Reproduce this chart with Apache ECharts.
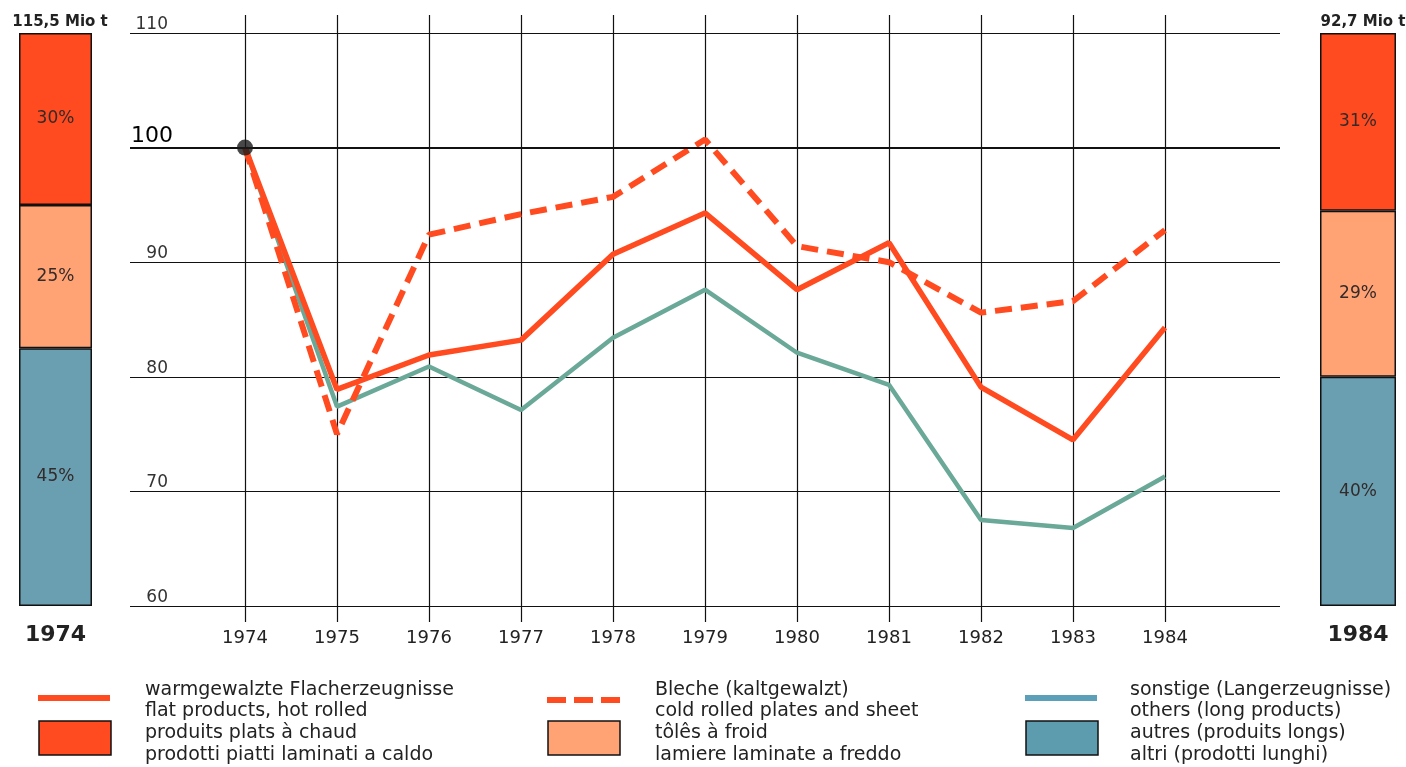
<!DOCTYPE html>
<html>
<head>
<meta charset="utf-8">
<script src="https://cdn.jsdelivr.net/npm/echarts@6/dist/echarts.min.js"></script>
<style>
  html, body { margin: 0; padding: 0; background: #fff; }
  #chart { width: 1406px; height: 767px; }
</style>
</head>
<body>
<div id="chart"></div>
<script>
// index 1974 = 100
const years = ["1974", "1975", "1976", "1977", "1978", "1979", "1980", "1981", "1982", "1983", "1984"];
const hotRolled = [100, 78.9, 81.9, 83.2, 90.7, 94.3, 87.6, 91.7, 79.1, 74.5, 84.3];
const coldRolled = [100, 75.0, 92.4, 94.2, 95.7, 100.7, 91.4, 90.0, 85.6, 86.6, 92.8];
const longProducts = [100, 77.4, 80.9, 77.1, 83.4, 87.6, 82.1, 79.3, 67.5, 66.8, 71.3];

const yTicks = [60, 70, 80, 90, 100, 110];

// production split, percent
const share1974 = { hot: 30, cold: 25, other: 45 };
const share1984 = { hot: 31, cold: 29, other: 40 };
const total1974 = "115,5 Mio t";
const total1984 = "92,7 Mio t";

const RED = "#ff4b1f";
const ORANGE = "#ffa374";
const TEAL_BAR = "#6a9fb1";
const TEAL_LINE = "#6aa898";
const FONT = "DejaVu Sans, Verdana, sans-serif";

const legendItems = [
  { x: 38, textX: 145, color: RED, dashed: false, box: RED,
    text: ["warmgewalzte Flacherzeugnisse", "flat products, hot rolled", "produits plats à chaud", "prodotti piatti laminati a caldo"] },
  { x: 547, textX: 655, color: RED, dashed: true, box: ORANGE,
    text: ["Bleche (kaltgewalzt)", "cold rolled plates and sheet", "tôlês à froid", "lamiere laminate a freddo"] },
  { x: 1025, textX: 1130, color: "#5ba0b8", dashed: false, box: "#5d9cae",
    text: ["sonstige (Langerzeugnisse)", "others (long products)", "autres (produits longs)", "altri (prodotti lunghi)"] },
];

function legendGraphics() {
  const out = [];
  legendItems.forEach((it) => {
    if (it.dashed) {
      out.push({ type: "line", shape: { x1: it.x, y1: 700, x2: it.x + 76, y2: 700 },
        style: { stroke: it.color, lineWidth: 6, lineDash: [19, 8] } });
    } else {
      out.push({ type: "rect", shape: { x: it.x, y: 695, width: 72, height: 6 }, style: { fill: it.color } });
    }
    out.push({ type: "rect", shape: { x: it.x + 1, y: 721, width: 72, height: 34 },
      style: { fill: it.box, stroke: "#111", lineWidth: 1.5 } });
    out.push({ type: "text", x: it.textX, y: 679,
      style: { text: it.text.join("\n"), font: "19px " + FONT, fill: "#222", lineHeight: 21.7 } });
  });
  return out;
}

function shareSeries(share, idx) {
  const parts = [
    { v: share.other, c: TEAL_BAR },
    { v: share.cold, c: ORANGE },
    { v: share.hot, c: RED },
  ];
  return parts.map((p) => ({
    type: "bar",
    xAxisIndex: idx,
    yAxisIndex: idx,
    stack: "s" + idx,
    barWidth: "100%",
    silent: true,
    data: [p.v],
    itemStyle: { color: p.c, borderColor: "#111", borderWidth: 1.5 },
    label: { show: true, position: "inside", formatter: "{c}%", fontSize: 17, color: "#332a2a", fontFamily: FONT },
  }));
}

const option = {
  backgroundColor: "#fff",
  animation: false,
  title: [
    { text: total1974, left: 55, top: 10, textAlign: "center",
      textStyle: { fontSize: 15, fontWeight: "bold", color: "#222", fontFamily: FONT } },
    { text: total1984, left: 1358, top: 10, textAlign: "center",
      textStyle: { fontSize: 15, fontWeight: "bold", color: "#222", fontFamily: FONT } },
  ],
  grid: [
    { left: 245, top: 33, width: 920, height: 573 },   // lines
    { left: 245, top: 15, width: 920, height: 607 },   // vertical rules + years
    { left: 130, top: 33, width: 1150, height: 573 },  // horizontal rules
    { left: 19, top: 33, width: 73, height: 573 },     // 1974 bar
    { left: 1320, top: 33, width: 76, height: 573 },   // 1984 bar
  ],
  xAxis: [
    { type: "category", gridIndex: 0, data: years, boundaryGap: false, show: false },
    { type: "category", gridIndex: 1, data: years, boundaryGap: false,
      axisLine: { show: false }, axisTick: { show: false },
      splitLine: { show: true, interval: 0, lineStyle: { color: "#111", width: 1.2 } },
      axisLabel: { interval: 0, margin: 7, fontSize: 18, color: "#222", fontFamily: FONT } },
    { type: "value", gridIndex: 2, min: 0, max: 1, show: false },
    { type: "category", gridIndex: 3, data: ["1974"], axisLine: { show: false }, axisTick: { show: false },
      axisLabel: { margin: 18, fontSize: 22, fontWeight: "bold", color: "#222", fontFamily: FONT } },
    { type: "category", gridIndex: 4, data: ["1984"], axisLine: { show: false }, axisTick: { show: false },
      axisLabel: { margin: 18, fontSize: 22, fontWeight: "bold", color: "#222", fontFamily: FONT } },
  ],
  yAxis: [
    { type: "value", gridIndex: 0, min: 60, max: 110, show: false },
    { type: "value", gridIndex: 1, show: false },
    { type: "value", gridIndex: 2, min: yTicks[0], max: yTicks[yTicks.length - 1], interval: 10,
      axisLine: { show: false }, axisTick: { show: false },
      splitLine: { show: true, lineStyle: { color: "#111", width: 1.2 } },
      axisLabel: {
        margin: -38, verticalAlign: "bottom", fontSize: 17, color: "#333", fontFamily: FONT,
        formatter: (v) => (v === 100 ? "{big|100}" : String(v)),
        rich: { big: { fontSize: 22, color: "#000", fontFamily: FONT, padding: [0, -5, 0, 0] } },
      } },
    { type: "value", gridIndex: 3, min: 0, max: 100, show: false },
    { type: "value", gridIndex: 4, min: 0, max: 100, show: false },
  ],
  graphic: legendGraphics(),
  series: [
    { type: "line", xAxisIndex: 2, yAxisIndex: 2, data: [], silent: true,
      markLine: { silent: true, symbol: "none", label: { show: false },
        lineStyle: { color: "#111", width: 2.2, type: "solid" }, data: [{ yAxis: 100 }] } },
    { name: "others", type: "line", xAxisIndex: 0, yAxisIndex: 0, data: longProducts, symbol: "none",
      lineStyle: { color: TEAL_LINE, width: 4.5 } },
    { name: "hot rolled", type: "line", xAxisIndex: 0, yAxisIndex: 0, data: hotRolled, symbol: "none",
      lineStyle: { color: RED, width: 5.5 } },
    { name: "cold rolled", type: "line", xAxisIndex: 0, yAxisIndex: 0, data: coldRolled, symbol: "none",
      lineStyle: { color: RED, width: 6, type: [17, 9] } },
    { type: "scatter", xAxisIndex: 0, yAxisIndex: 0, data: [[years[0], hotRolled[0]]], symbolSize: 16,
      itemStyle: { color: "#1a1a1a" }, z: 5 },
    ...shareSeries(share1974, 3),
    ...shareSeries(share1984, 4),
  ],
};

const chart = echarts.init(document.getElementById("chart"));
chart.setOption(option);
</script>
</body>
</html>
